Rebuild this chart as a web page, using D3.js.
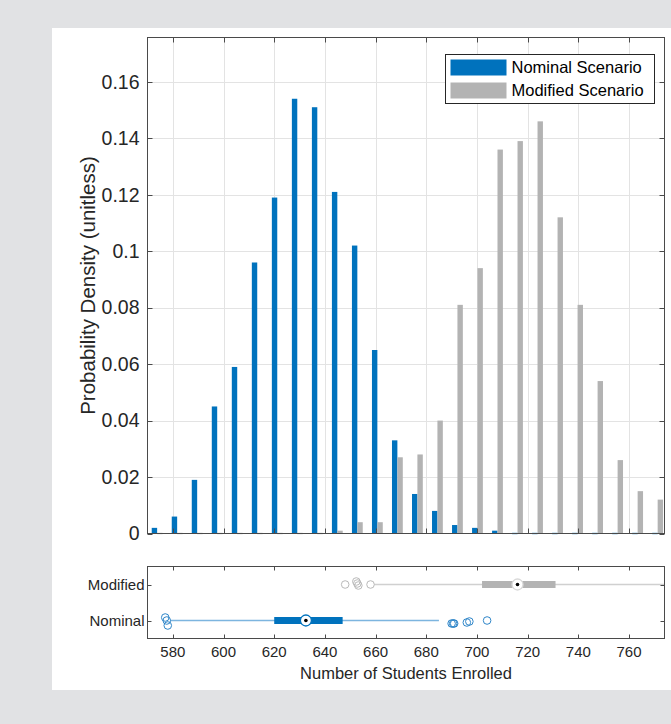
<!DOCTYPE html>
<html>
<head>
<meta charset="utf-8">
<script src="https://cdn.jsdelivr.net/npm/d3@7"></script>
<style>
  body { margin: 0; background: #e1e2e4; }
  svg { display: block; font-family: "Liberation Sans", Arial, sans-serif; }
</style>
</head>
<body>
<div id="chart"></div>
<script>
// histogram bins (centres) and probabilities for both scenarios
const binCenters = [573.8, 581.7, 589.6, 597.5, 605.4, 613.3, 621.2, 629.1, 637.0, 644.9,
  652.8, 660.7, 668.6, 676.5, 684.4, 692.3, 700.2, 708.1, 716.0, 723.9,
  731.8, 739.7, 747.6, 755.5, 763.4, 771.3];
const binWidth = 7.9;
const nominal = [0.002, 0.006, 0.019, 0.045, 0.059, 0.096, 0.119, 0.154, 0.151, 0.121,
  0.102, 0.065, 0.033, 0.014, 0.008, 0.003, 0.002, 0.001, 0, 0,
  0, 0, 0, 0, 0, 0];
const modified = [0, 0, 0, 0, 0, 0, 0, 0, 0, 0.001,
  0.004, 0.004, 0.027, 0.028, 0.040, 0.081, 0.094, 0.136, 0.139, 0.146,
  0.112, 0.081, 0.054, 0.026, 0.015, 0.012];
const seriesNames = ['Nominal Scenario', 'Modified Scenario'];

// axis ticks
const xTicks = [580, 600, 620, 640, 660, 680, 700, 720, 740, 760];
const yTicks = [0, 0.02, 0.04, 0.06, 0.08, 0.1, 0.12, 0.14, 0.16];
const yTickLabels = ['0', '0.02', '0.04', '0.06', '0.08', '0.1', '0.12', '0.14', '0.16'];

// compact boxplot summary: [whisker low, q1, median, q3, whisker high]
const boxCategories = ['Nominal', 'Modified'];
const nominalBox = [579, 620, 632.5, 647, 685];
const modifiedBox = [659.5, 702, 716, 731, 790];
const nominalOutliers = [577, 577.6, 578, 690, 690.6, 691, 696, 697, 704];
const modifiedOutliers = [648, 652.4, 652.8, 653.2, 658];
// vertical jitter of the outlier markers (pixels)
const nominalJitter = [-3, 0, 5, 3, 3, 3, 2, 1, 0];
const modifiedJitter = [0, -3, -1, 1, 0];

const width = 671;
const height = 724;
const blue = '#0072bd';
const gray = '#b3b3b3';
const axisColor = '#4a4a4a';

const svg = d3.select('#chart')
  .append('svg')
    .attr('width', width)
    .attr('height', height);

svg.append('rect')
  .attr('width', width).attr('height', height)
  .attr('fill', '#e1e2e4');
svg.append('rect')
  .attr('x', 52).attr('y', 28)
  .attr('width', width - 52).attr('height', 662)
  .attr('fill', '#ffffff');

// ---------- histogram axes ----------
const plot = { left: 147.5, right: 664.5, top: 37.5, bottom: 533.5 };

const x = d3.scaleLinear()
  .domain([570, 774])
  .range([plot.left, plot.right]);

const y = d3.scaleLinear()
  .domain([0, 0.1757])
  .range([plot.bottom, plot.top]);

// grid
svg.append('g')
  .selectAll('line')
  .data(xTicks)
  .join('line')
    .attr('x1', d => Math.round(x(d)) + 0.5).attr('x2', d => Math.round(x(d)) + 0.5)
    .attr('y1', plot.top).attr('y2', plot.bottom)
    .attr('stroke', '#e3e3e3');
svg.append('g')
  .selectAll('line')
  .data(yTicks.slice(1))
  .join('line')
    .attr('x1', plot.left).attr('x2', plot.right)
    .attr('y1', d => Math.round(y(d)) + 0.5).attr('y2', d => Math.round(y(d)) + 0.5)
    .attr('stroke', '#e3e3e3');

// grouped bars
const barW = x(570 + binWidth * 0.27) - x(570);
const offset = binWidth * 0.135;
const bars = svg.append('g');

[nominal, modified].forEach((series, s) => {
  const col = s === 0 ? blue : gray;
  bars.append('g')
    .selectAll('rect')
    .data(series)
    .join('rect')
      .attr('x', (d, i) => x(binCenters[i] + (s === 0 ? -offset : offset)) - barW / 2)
      .attr('width', barW)
      .attr('y', d => d > 0 ? y(d) : plot.bottom - 1)
      .attr('height', d => d > 0 ? plot.bottom - y(d) : 2)
      .attr('fill', col)
      .attr('opacity', d => d > 0 ? 1 : 0.35);
});

// frame and ticks
svg.append('rect')
  .attr('x', plot.left).attr('y', plot.top)
  .attr('width', plot.right - plot.left).attr('height', plot.bottom - plot.top)
  .attr('fill', 'none')
  .attr('stroke', axisColor);

const tickLen = 5;
const ticks = svg.append('g').attr('stroke', axisColor);
xTicks.forEach(t => {
  const px = Math.round(x(t)) + 0.5;
  ticks.append('line').attr('x1', px).attr('x2', px).attr('y1', plot.bottom).attr('y2', plot.bottom - tickLen);
  ticks.append('line').attr('x1', px).attr('x2', px).attr('y1', plot.top).attr('y2', plot.top + tickLen);
});
yTicks.forEach(t => {
  const py = Math.round(y(t)) + 0.5;
  ticks.append('line').attr('x1', plot.left).attr('x2', plot.left + tickLen).attr('y1', py).attr('y2', py);
  ticks.append('line').attr('x1', plot.right).attr('x2', plot.right - tickLen).attr('y1', py).attr('y2', py);
});

svg.append('g')
  .selectAll('text')
  .data(yTicks)
  .join('text')
    .attr('x', plot.left - 8)
    .attr('y', d => y(d))
    .attr('dy', '0.35em')
    .attr('text-anchor', 'end')
    .attr('font-size', '19.5px')
    .attr('fill', '#262626')
    .text((d, i) => yTickLabels[i]);

svg.append('text')
  .attr('transform', `translate(95,${(plot.top + plot.bottom) / 2}) rotate(-90)`)
  .attr('text-anchor', 'middle')
  .attr('font-size', '20.5px')
  .attr('fill', '#262626')
  .text('Probability Density (unitless)');

// legend
const legend = svg.append('g').attr('transform', 'translate(445.5,54.5)');
legend.append('rect')
  .attr('width', 209).attr('height', 49)
  .attr('fill', '#fff')
  .attr('stroke', '#262626');
seriesNames.forEach((name, i) => {
  legend.append('rect')
    .attr('x', 5).attr('y', 5 + i * 23)
    .attr('width', 56).attr('height', 16)
    .attr('fill', i === 0 ? blue : gray);
  legend.append('text')
    .attr('x', 66).attr('y', 13 + i * 23)
    .attr('dy', '0.35em')
    .attr('font-size', '16.5px')
    .attr('fill', '#000')
    .text(name);
});

// ---------- boxplot axes ----------
const box = { left: 147.5, right: 664.5, top: 566.5, bottom: 638.5 };

const yb = d3.scaleLinear()
  .domain([0.5, 2.5])
  .range([box.bottom, box.top]);

svg.append('clipPath').attr('id', 'boxclip')
  .append('rect')
    .attr('x', box.left).attr('y', box.top)
    .attr('width', box.right - box.left).attr('height', box.bottom - box.top);

const boxG = svg.append('g').attr('clip-path', 'url(#boxclip)');

const boxStyles = [
  { stats: nominalBox, out: nominalOutliers, jit: nominalJitter, main: blue, whisk: '#7db5df', outline: '#2f86c9' },
  { stats: modifiedBox, out: modifiedOutliers, jit: modifiedJitter, main: gray, whisk: '#d0d0d0', outline: '#b9b9b9' }
];

boxStyles.forEach((b, i) => {
  const cy = yb(i + 1);
  boxG.append('line')
    .attr('x1', x(b.stats[0])).attr('x2', x(b.stats[4]))
    .attr('y1', cy).attr('y2', cy)
    .attr('stroke', b.whisk)
    .attr('stroke-width', 1.6);
  boxG.append('line')
    .attr('x1', x(b.stats[1])).attr('x2', x(b.stats[3]))
    .attr('y1', cy).attr('y2', cy)
    .attr('stroke', b.main)
    .attr('stroke-width', 7);
  boxG.append('g')
    .selectAll('circle')
    .data(b.out)
    .join('circle')
      .attr('cx', d => x(d))
      .attr('cy', (d, j) => cy + b.jit[j])
      .attr('r', 3.8)
      .attr('fill', 'none')
      .attr('stroke', b.outline)
      .attr('stroke-width', 1);
  boxG.append('circle')
    .attr('cx', x(b.stats[2])).attr('cy', cy)
    .attr('r', 5.5)
    .attr('fill', '#fff')
    .attr('stroke', i === 0 ? blue : '#d9d9d9')
    .attr('stroke-width', 1.3);
  boxG.append('circle')
    .attr('cx', x(b.stats[2])).attr('cy', cy)
    .attr('r', 1.8)
    .attr('fill', '#000');
});

svg.append('rect')
  .attr('x', box.left).attr('y', box.top)
  .attr('width', box.right - box.left).attr('height', box.bottom - box.top)
  .attr('fill', 'none')
  .attr('stroke', axisColor);

const bticks = svg.append('g').attr('stroke', axisColor);
xTicks.forEach(t => {
  const px = Math.round(x(t)) + 0.5;
  bticks.append('line').attr('x1', px).attr('x2', px).attr('y1', box.bottom).attr('y2', box.bottom - 4);
  bticks.append('line').attr('x1', px).attr('x2', px).attr('y1', box.top).attr('y2', box.top + 4);
});
boxCategories.forEach((c, i) => {
  const py = Math.round(yb(i + 1)) + 0.5;
  bticks.append('line').attr('x1', box.left).attr('x2', box.left + 4).attr('y1', py).attr('y2', py);
  bticks.append('line').attr('x1', box.right).attr('x2', box.right - 4).attr('y1', py).attr('y2', py);
});

svg.append('g')
  .selectAll('text')
  .data(boxCategories)
  .join('text')
    .attr('x', box.left - 3)
    .attr('y', (d, i) => yb(i + 1))
    .attr('dy', '0.35em')
    .attr('text-anchor', 'end')
    .attr('font-size', '15px')
    .attr('fill', '#262626')
    .text(d => d);

svg.append('g')
  .selectAll('text')
  .data(xTicks)
  .join('text')
    .attr('x', d => x(d))
    .attr('y', box.bottom + 18)
    .attr('text-anchor', 'middle')
    .attr('font-size', '15px')
    .attr('fill', '#262626')
    .text(d => d);

svg.append('text')
  .attr('x', (box.left + box.right) / 2)
  .attr('y', box.bottom + 40)
  .attr('text-anchor', 'middle')
  .attr('font-size', '16.5px')
  .attr('fill', '#262626')
  .text('Number of Students Enrolled');
</script>
</body>
</html>
